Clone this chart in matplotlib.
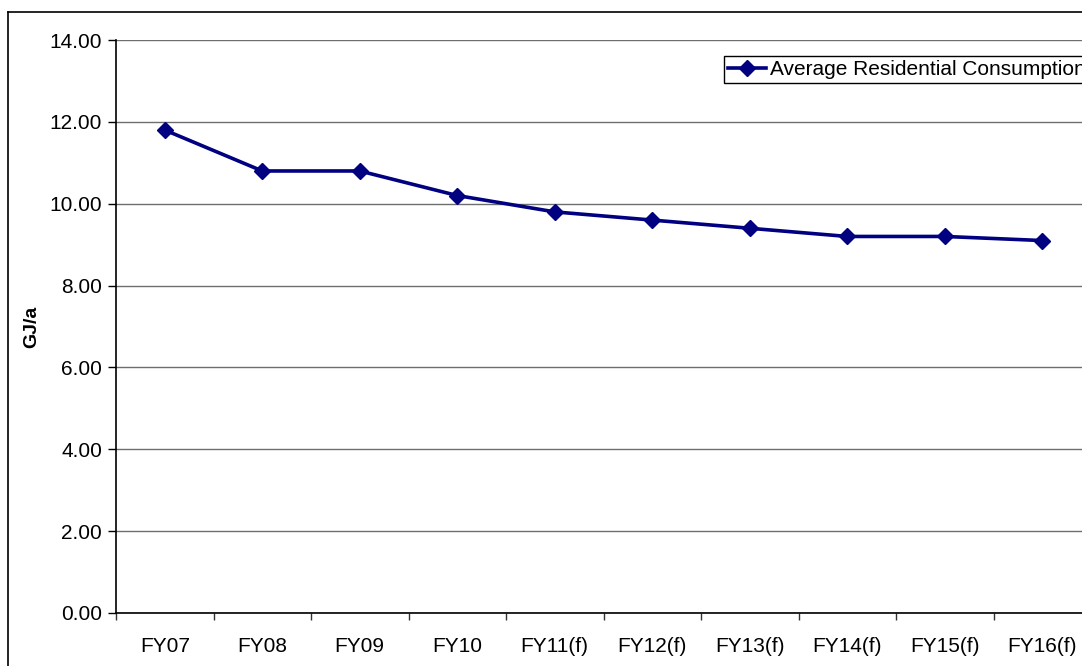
import matplotlib.pyplot as plt
import numpy as np
from matplotlib.lines import Line2D

years = ["FY07", "FY08", "FY09", "FY10", "FY11(f)", "FY12(f)",
         "FY13(f)", "FY14(f)", "FY15(f)", "FY16(f)"]
consumption = [11.8, 10.8, 10.8, 10.2, 9.8, 9.6, 9.4, 9.2, 9.2, 9.1]
y_ticks = [0, 2, 4, 6, 8, 10, 12, 14]


def main() -> None:
    plt.rcParams["font.family"] = ["Liberation Sans", "DejaVu Sans"]

    fig = plt.figure(figsize=(10.82, 6.66), dpi=100)
    # plot area runs off the right edge of the chart
    ax = fig.add_axes([116 / 1082, 53 / 666, 975 / 1082, 573 / 666])

    x = np.arange(len(years))
    ax.plot(x, consumption, color="#000080", linewidth=2.6, marker="D",
            markersize=8.5, label="Average Residential Consumption", zorder=3)

    ax.set_xlim(-0.5, len(years) - 0.5)
    ax.set_ylim(0, 14)
    ax.set_yticks(y_ticks)
    ax.set_yticklabels([f"{v:.2f}" for v in y_ticks], fontsize=15)
    ax.yaxis.grid(True, color="#6e6e6e", linewidth=1.0)
    ax.set_axisbelow(True)

    ax.set_xticks(x)
    ax.set_xticklabels(years, fontsize=15)
    ax.tick_params(axis="x", which="major", length=0, pad=17)
    ax.set_xticks(np.arange(-0.5, len(years), 1.0), minor=True)
    ax.tick_params(axis="x", which="minor", length=5, width=1, color="#333333")
    ax.tick_params(axis="y", length=6, width=1, pad=4)

    for side in ("top", "right"):
        ax.spines[side].set_visible(False)
    for side in ("left", "bottom"):
        ax.spines[side].set_linewidth(1.2)
        ax.spines[side].set_color("black")

    ax.set_ylabel("GJ/a", fontsize=14, fontweight="bold", labelpad=7)

    leg = ax.legend(loc="upper left", bbox_to_anchor=(724 / 1082, 1 - 56 / 666),
                    bbox_transform=fig.transFigure, fontsize=15, frameon=True,
                    fancybox=False, framealpha=1, edgecolor="black",
                    handlelength=1.8, handletextpad=0.2, borderpad=0.2,
                    borderaxespad=0)
    leg.get_frame().set_linewidth(1.0)

    # chart border
    bx, by = 7.5 / 1082, 1 - 11.5 / 666
    fig.add_artist(Line2D([bx, bx], [0, by], transform=fig.transFigure,
                          color="black", linewidth=1.2))
    fig.add_artist(Line2D([bx, 1.0], [by, by], transform=fig.transFigure,
                          color="black", linewidth=1.2))

    fig.savefig("out.png", dpi=100)


if __name__ == "__main__":
    main()
